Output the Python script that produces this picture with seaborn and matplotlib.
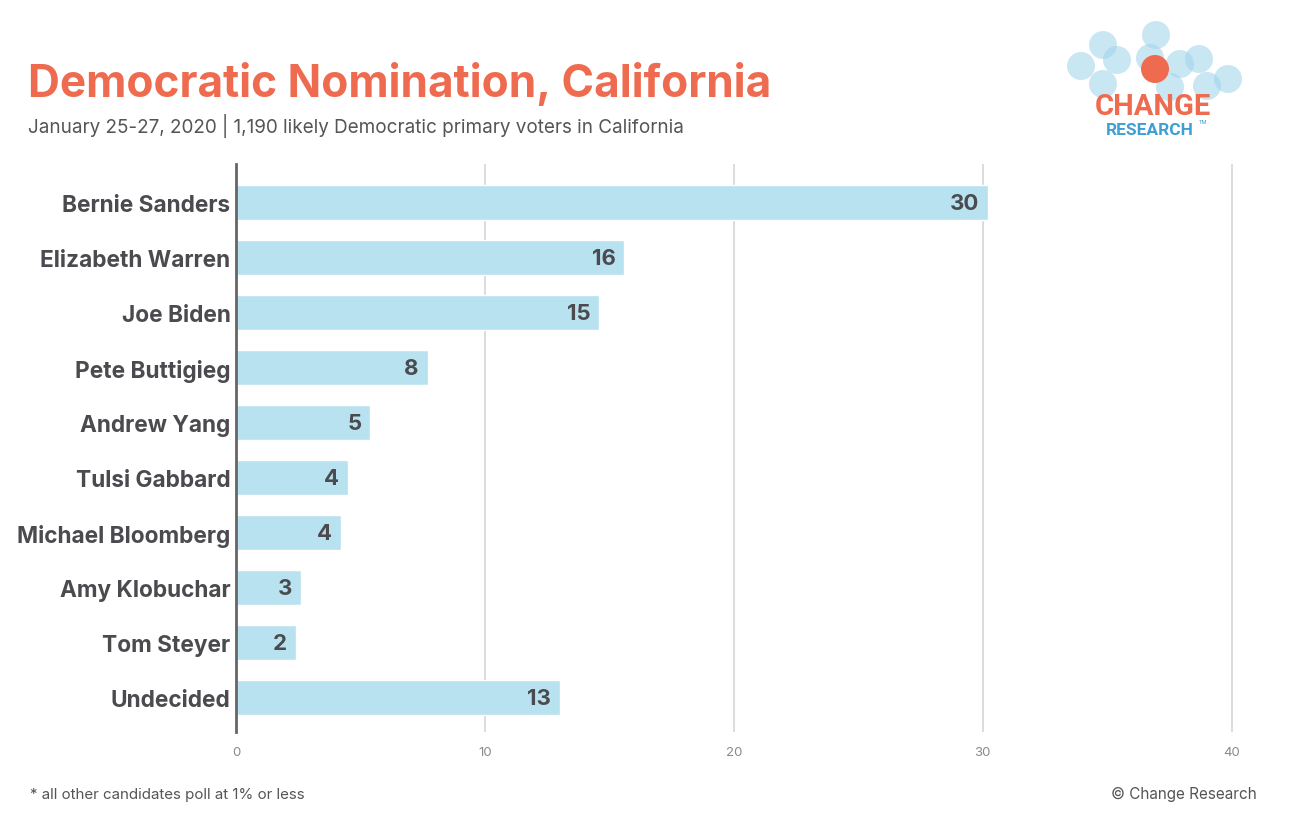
import matplotlib
matplotlib.use("Agg")
import matplotlib.pyplot as plt
from matplotlib.patches import Circle
import seaborn as sns
import pandas as pd

# poll data (bar lengths are the unrounded shares, labels are rounded)
candidates = ["Bernie Sanders", "Elizabeth Warren", "Joe Biden", "Pete Buttigieg",
              "Andrew Yang", "Tulsi Gabbard", "Michael Bloomberg", "Amy Klobuchar",
              "Tom Steyer", "Undecided"]
shares = [30.2, 15.6, 14.6, 7.7, 5.4, 4.5, 4.2, 2.6, 2.4, 13.0]
labels = [30, 16, 15, 8, 5, 4, 4, 3, 2, 13]
xticks = [0, 10, 20, 30, 40]

ORANGE = "#EE6B4F"
BAR = "#B9E2F0"
DARK = "#4A4A4F"

sns.set_style("white")
plt.rcParams["font.family"] = ["Inter", "DejaVu Sans"]

df = pd.DataFrame({"candidate": candidates, "share": shares})

fig = plt.figure(figsize=(13.03, 8.29), dpi=100)
ax = fig.add_axes([0.1811, 0.1158, 0.7736, 0.6852])

sns.barplot(data=df, x="share", y="candidate", color=BAR, saturation=1,
            width=0.64, ax=ax)

ax.set_xlim(0, 40.5)
ax.set_ylim(9.62, -0.7)
ax.set_xticks(xticks)
ax.set_xticklabels([str(t) for t in xticks], color="#8a8a8a", fontsize=9.5)
ax.tick_params(axis="x", length=0, pad=10)
ax.tick_params(axis="y", length=0, pad=4)
for t in ax.get_yticklabels():
    t.set_fontsize(16.3)
    t.set_fontweight("bold")
    t.set_color(DARK)
ax.set_xlabel("")
ax.set_ylabel("")
ax.grid(axis="x", color="#d6d6d6", linewidth=1.2)
ax.set_axisbelow(True)
for s in ["top", "right", "bottom"]:
    ax.spines[s].set_visible(False)
ax.spines["left"].set_color("#666666")
ax.spines["left"].set_linewidth(2)
ax.spines["left"].set_zorder(5)

for i, (v, lab) in enumerate(zip(shares, labels)):
    ax.text(v - 0.35, i, str(lab), ha="right", va="center", fontsize=16,
            fontweight="bold", color=DARK)

# titles and footer
fig.text(28 / 1303, 1 - 97 / 829, "Democratic Nomination, California",
         fontsize=31.8, fontweight="bold", color=ORANGE, ha="left", va="baseline")
fig.text(28 / 1303, 1 - 133 / 829,
         "January 25-27, 2020 | 1,190 likely Democratic primary voters in California",
         fontsize=13.6, color="#555555", ha="left", va="baseline")
fig.text(30 / 1303, 1 - 799 / 829, "* all other candidates poll at 1% or less",
         fontsize=10.9, color="#555555", ha="left", va="baseline")
fig.text(1257 / 1303, 1 - 799 / 829, "\u00a9 Change Research",
         fontsize=11, color="#555555", ha="right", va="baseline")

# logo drawn in pixel coordinates
lx0, lx1, ly0, ly1 = 1060, 1250, 15, 140
lax = fig.add_axes([lx0 / 1303, 1 - ly1 / 829, (lx1 - lx0) / 1303, (ly1 - ly0) / 829])
lax.set_xlim(lx0, lx1)
lax.set_ylim(ly1, ly0)
lax.axis("off")
bubbles = [(1081, 67), (1103, 46), (1117, 61), (1156, 36), (1150, 59),
           (1180, 65), (1199, 60), (1228, 80), (1103, 85), (1207, 87), (1170, 88)]
for cx, cy in bubbles:
    lax.add_patch(Circle((cx, cy), 14, color="#9ED3EA", alpha=0.55, lw=0))
lax.add_patch(Circle((1155, 70), 14, color=ORANGE, lw=0))
lax.text(1153, 115, "CHANGE", fontsize=21, fontweight="bold", color=ORANGE,
         ha="center", va="baseline", family=["Roboto", "DejaVu Sans"])
lax.text(1150, 135, "RESEARCH", fontsize=12.5, fontweight="bold", color="#3E9FD3",
         ha="center", va="baseline", family=["Roboto", "DejaVu Sans"])
lax.text(1199, 124, "TM", fontsize=4, color="#3E9FD3", ha="left", va="baseline")

fig.savefig("out.png", dpi=100)
